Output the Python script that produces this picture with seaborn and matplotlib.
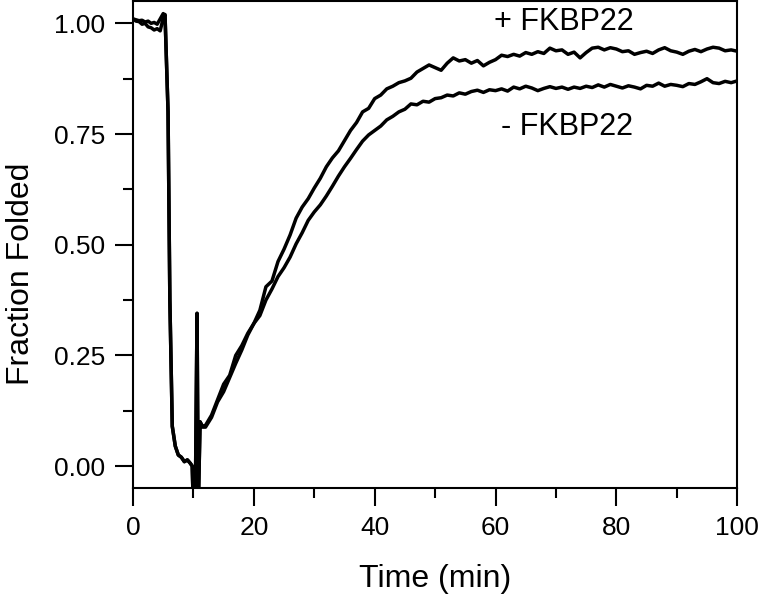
import matplotlib
matplotlib.use("Agg")
import matplotlib.pyplot as plt
import pandas as pd
import seaborn as sns
from matplotlib.ticker import MultipleLocator, FormatStrFormatter

# early part of the trace (pre-denaturation, drop, dilution spike)
time_early = [0, 0.5, 1, 1.5, 2, 2.5, 3, 3.5, 4, 4.5, 5, 5.3, 5.8, 6.1, 6.5, 7.0,
              7.5, 8.0, 8.5, 9.0, 9.5, 9.8, 10.0, 10.3, 10.6, 10.8, 11.1, 11.5]
plus_early = [1.010, 1.008, 1.006, 1.007, 1.003, 1.005, 1.000, 1.002, 0.998, 1.010,
              1.022, 1.018, 0.80, 0.375, 0.09, 0.045, 0.025, 0.020, 0.010, 0.014,
              0.006, 0.0, -0.10, -0.10, 0.345, -0.10, 0.10, 0.090]
minus_early = [1.010, 1.005, 1.004, 0.998, 1.000, 0.992, 0.990, 0.985, 0.988, 0.983,
               1.012, 1.020, 0.80, 0.375, 0.09, 0.045, 0.025, 0.020, 0.010, 0.014,
               0.006, 0.0, -0.10, -0.10, 0.345, -0.10, 0.10, 0.088]

# refolding part, one reading per minute from 12 to 100 min
time_late = list(range(12, 101))
plus_late = [0.092, 0.115, 0.150, 0.185, 0.205, 0.250, 0.272, 0.300, 0.322, 0.352,
             0.405, 0.418, 0.462, 0.490, 0.522, 0.560, 0.585, 0.604, 0.628, 0.650,
             0.676, 0.696, 0.712, 0.735, 0.758, 0.776, 0.800, 0.808, 0.830, 0.838,
             0.852, 0.858, 0.866, 0.870, 0.876, 0.890, 0.898, 0.906, 0.900, 0.894,
             0.910, 0.922, 0.915, 0.918, 0.910, 0.916, 0.904, 0.912, 0.918, 0.928,
             0.925, 0.930, 0.926, 0.934, 0.930, 0.936, 0.932, 0.944, 0.938, 0.940,
             0.930, 0.935, 0.922, 0.934, 0.944, 0.946, 0.940, 0.945, 0.942, 0.936,
             0.938, 0.930, 0.934, 0.937, 0.932, 0.940, 0.945, 0.938, 0.935, 0.930,
             0.937, 0.941, 0.936, 0.942, 0.946, 0.944, 0.938, 0.940, 0.937]
minus_late = [0.088, 0.110, 0.145, 0.168, 0.200, 0.232, 0.262, 0.296, 0.322, 0.340,
              0.375, 0.400, 0.428, 0.448, 0.472, 0.502, 0.527, 0.555, 0.574, 0.590,
              0.610, 0.632, 0.655, 0.676, 0.695, 0.715, 0.734, 0.748, 0.758, 0.768,
              0.782, 0.790, 0.800, 0.806, 0.818, 0.816, 0.824, 0.822, 0.830, 0.832,
              0.838, 0.836, 0.843, 0.840, 0.846, 0.849, 0.844, 0.850, 0.848, 0.852,
              0.847, 0.856, 0.852, 0.858, 0.854, 0.848, 0.853, 0.857, 0.853, 0.856,
              0.851, 0.856, 0.853, 0.858, 0.855, 0.861, 0.856, 0.862, 0.858, 0.854,
              0.859, 0.856, 0.852, 0.860, 0.858, 0.865, 0.858, 0.862, 0.860, 0.857,
              0.864, 0.862, 0.868, 0.875, 0.866, 0.864, 0.869, 0.866, 0.870]

labels = ["+ FKBP22", "- FKBP22"]

sns.set_style("ticks", {"axes.edgecolor": "black", "text.color": "black",
                        "xtick.color": "black", "ytick.color": "black",
                        "axes.labelcolor": "black"})
plt.rcParams['font.family'] = ['Liberation Sans', 'DejaVu Sans']

times = time_early + time_late
df = pd.concat([
    pd.DataFrame({"time": times, "frac": plus_early + plus_late, "sample": labels[0]}),
    pd.DataFrame({"time": times, "frac": minus_early + minus_late, "sample": labels[1]}),
])

fig = plt.figure(figsize=(7.6, 6.02), dpi=100)
ax = fig.add_axes([0.175, 0.189, 0.795, 0.809])

sns.lineplot(data=df, x="time", y="frac", units="sample", estimator=None, sort=False,
             color="black", lw=2.5, legend=False, ax=ax)

ax.set_xlim(0, 100)
ax.set_ylim(-0.05, 1.05)
ax.xaxis.set_major_locator(MultipleLocator(20))
ax.xaxis.set_minor_locator(MultipleLocator(10))
ax.yaxis.set_major_locator(MultipleLocator(0.25))
ax.yaxis.set_minor_locator(MultipleLocator(0.125))
ax.yaxis.set_major_formatter(FormatStrFormatter("%.2f"))

for s in ax.spines.values():
    s.set_visible(True)
    s.set_linewidth(1.5)
    s.set_color("black")
ax.tick_params(which="major", direction="out", length=13, width=1.5, pad=7,
               labelsize=19, colors="black")
ax.tick_params(which="minor", direction="out", length=7, width=1.5, colors="black")
ax.tick_params(top=False, right=False, which="both")

ax.set_xlabel("Time (min)", fontsize=23, labelpad=17, color="black")
ax.set_ylabel("Fraction Folded", fontsize=23, color="black")
ax.yaxis.set_label_coords(-0.16, 0.44)

ax.text(82.8, 1.002, labels[0], fontsize=22, ha="right", va="center", color="black")
ax.text(82.8, 0.765, labels[1], fontsize=22, ha="right", va="center", color="black")

fig.savefig("out.png", dpi=100)
